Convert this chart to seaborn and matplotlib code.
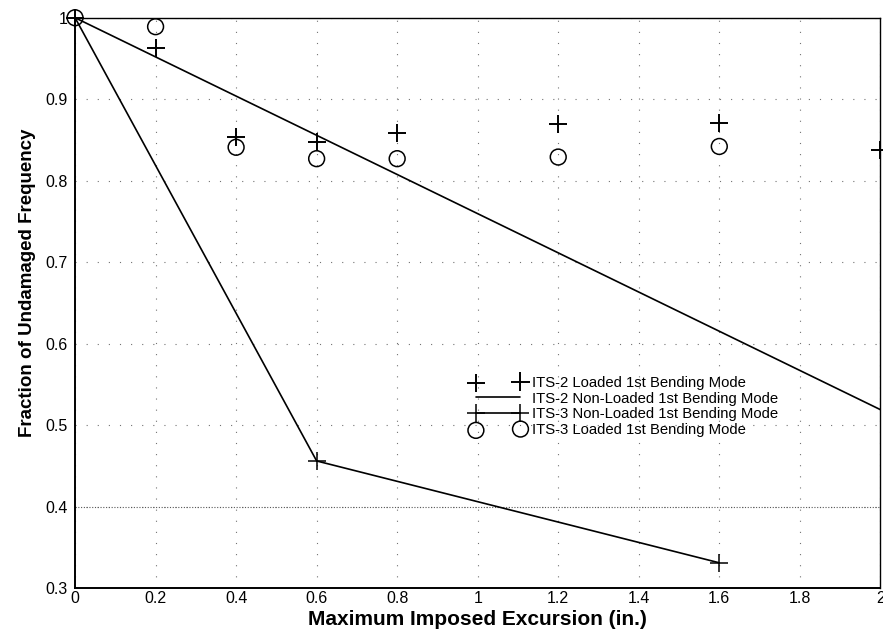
import matplotlib
matplotlib.use("Agg")
import matplotlib.pyplot as plt
import seaborn as sns
from matplotlib.ticker import FuncFormatter

# excursion (in.) and fraction of undamaged frequency
its2_loaded_x = [0.0, 0.2, 0.4, 0.6, 0.8, 1.2, 1.6, 2.0]
its2_loaded_y = [1.0, 0.963, 0.854, 0.848, 0.859, 0.869, 0.871, 0.838]

its3_loaded_x = [0.0, 0.2, 0.4, 0.6, 0.8, 1.2, 1.6]
its3_loaded_y = [1.0, 0.989, 0.841, 0.827, 0.827, 0.829, 0.842]

its2_nonloaded_x = [0.0, 2.0]
its2_nonloaded_y = [1.0, 0.519]

its3_nonloaded_x = [0.0, 0.6, 1.6]
its3_nonloaded_y = [1.0, 0.456, 0.331]

x_ticks = [0, 0.2, 0.4, 0.6, 0.8, 1.0, 1.2, 1.4, 1.6, 1.8, 2.0]
y_ticks = [0.3, 0.4, 0.5, 0.6, 0.7, 0.8, 0.9, 1.0]

sns.set_style("white")
plt.rcParams['font.family'] = ['Liberation Sans', 'DejaVu Sans']

fig = plt.figure(figsize=(8.83, 6.33), dpi=100)
ax = fig.add_axes([0.085, 0.071, 0.912, 0.901])

sns.scatterplot(x=its2_loaded_x, y=its2_loaded_y, marker='+', s=180,
                color='black', linewidth=1.4, label='ITS-2 Loaded 1st Bending Mode',
                ax=ax, zorder=4, clip_on=False)
sns.lineplot(x=its2_nonloaded_x, y=its2_nonloaded_y, color='black', linewidth=1.2,
             label='ITS-2 Non-Loaded 1st Bending Mode', ax=ax, sort=False, zorder=3)
sns.lineplot(x=its3_nonloaded_x, y=its3_nonloaded_y, color='black', linewidth=1.2,
             marker='+', markersize=13, markeredgewidth=1.1, markeredgecolor='black',
             label='ITS-3 Non-Loaded 1st Bending Mode', ax=ax, sort=False, zorder=3)
sns.scatterplot(x=its3_loaded_x, y=its3_loaded_y, marker='o', s=130,
                facecolors='none', edgecolor='black', linewidth=1.1,
                label='ITS-3 Loaded 1st Bending Mode', ax=ax, zorder=4, clip_on=False)

ax.set_xlim(0, 2)
ax.set_ylim(0.3, 1.0)
ax.set_xticks(x_ticks)
ax.set_yticks(y_ticks)
ax.xaxis.set_major_formatter(FuncFormatter(lambda v, p: f"{v:g}"))
ax.yaxis.set_major_formatter(FuncFormatter(lambda v, p: f"{v:g}"))
ax.tick_params(axis='both', length=0, labelsize=11.5, labelcolor='black')
ax.tick_params(axis='y', pad=5)
ax.tick_params(axis='x', pad=2)

# sparse dotted grid like the scanned original, 0.4 line denser
ax.grid(True, color='0.45', linestyle=(0, (1, 9)), linewidth=0.8)
ax.axhline(0.4, color='0.35', linestyle=(0, (1, 1.5)), linewidth=0.8, zorder=1)

for side in ['left', 'bottom']:
    ax.spines[side].set_linewidth(1.4)
for side in ['top', 'right']:
    ax.spines[side].set_linewidth(1.0)
for s in ax.spines.values():
    s.set_color('black')

ax.set_xlabel('Maximum Imposed Excursion (in.)', fontsize=15, fontweight='bold',
              labelpad=3, color='black')
ax.set_ylabel('Fraction of Undamaged Frequency', fontsize=13.5, fontweight='bold',
              color='black')
ax.yaxis.set_label_coords(-0.048, 0.535)

handles, labels = ax.get_legend_handles_labels()
leg = ax.legend(handles, labels, loc='upper left', bbox_to_anchor=(0.483, 0.385),
                frameon=False, fontsize=10.7, numpoints=2, scatterpoints=2,
                handlelength=3.6, handletextpad=0.5, labelspacing=0.12, borderpad=0)
for t in leg.get_texts():
    t.set_color('black')

fig.savefig('out.png', dpi=100)
